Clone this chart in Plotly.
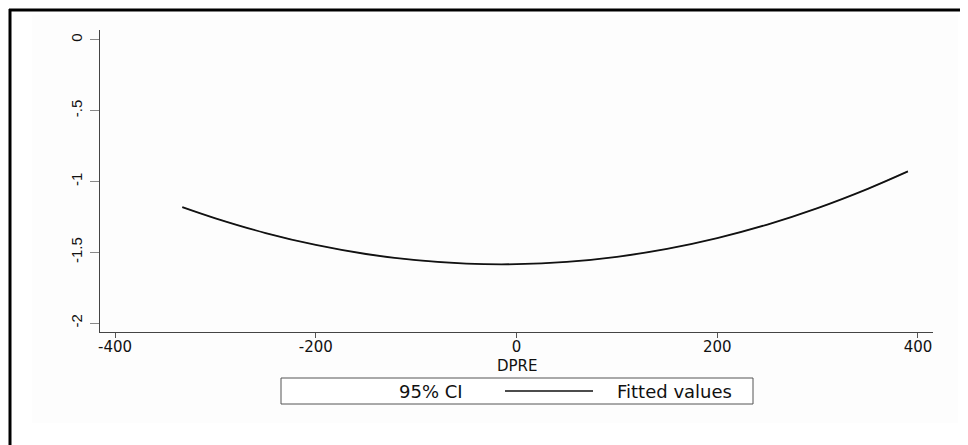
import plotly.graph_objects as go

# ---- data ----
dpre = [-333, -300, -250, -200, -150, -100, -50, 0, 50, 100, 150, 200, 250, 300, 350, 390]
fitted = [-1.181, -1.260, -1.364, -1.448, -1.512, -1.556, -1.580, -1.584,
          -1.568, -1.532, -1.476, -1.400, -1.304, -1.188, -1.052, -0.929]
ci_lower = [-1.186, -1.264, -1.367, -1.451, -1.515, -1.559, -1.583, -1.587,
            -1.571, -1.535, -1.479, -1.403, -1.307, -1.192, -1.057, -0.935]
ci_upper = [-1.176, -1.256, -1.361, -1.445, -1.509, -1.553, -1.577, -1.581,
            -1.565, -1.529, -1.473, -1.397, -1.301, -1.184, -1.047, -0.923]

x_ticks = [-400, -200, 0, 200, 400]
x_tick_labels = ["-400", "-200", "0", "200", "400"]
y_ticks = [0, -0.5, -1, -1.5, -2]
y_tick_labels = ["0", "-.5", "-1", "-1.5", "-2"]

x_title = "DPRE"
legend_labels = ["95% CI", "Fitted values"]

# ---- geometry (page pixels; the page body adds an 8px offset) ----
OFF = 8
W, H = 960, 437
ML, MR, MT, MB = 92, 35, 22, 113
PW = W - ML - MR
PH = H - MT - MB


def px(x):
    return (x - OFF - ML) / PW


def py(y):
    return (H - MB - (y - OFF)) / PH


fig = go.Figure()

fig.add_trace(go.Scatter(
    x=dpre, y=ci_upper, mode="lines", line=dict(width=0, shape="spline"),
    showlegend=False, hoverinfo="skip"))
fig.add_trace(go.Scatter(
    x=dpre, y=ci_lower, mode="lines", line=dict(width=0, shape="spline"),
    fill="tonexty", fillcolor="rgb(190,190,190)", name=legend_labels[0],
    showlegend=False))
fig.add_trace(go.Scatter(
    x=dpre, y=fitted, mode="lines", line=dict(color="#111111", width=1.8, shape="spline"),
    name=legend_labels[1], showlegend=False))

shapes = [
    # faint graph region
    dict(type="rect", xref="paper", yref="paper",
         x0=px(32), x1=px(958), y0=py(423), y1=py(15),
         fillcolor="#fdfdfd", line=dict(width=0), layer="below"),
    # outer black frame: top and left edges (right/bottom lie outside the window)
    dict(type="line", xref="paper", yref="paper",
         x0=px(9), x1=px(1100), y0=py(10), y1=py(10),
         line=dict(color="black", width=3)),
    dict(type="line", xref="paper", yref="paper",
         x0=px(10), x1=px(10), y0=py(9), y1=py(600),
         line=dict(color="black", width=3)),
    # legend box
    dict(type="rect", xref="paper", yref="paper",
         x0=px(281), x1=px(753), y0=py(404), y1=py(378),
         line=dict(color="#555555", width=1), fillcolor="white"),
    # legend line key
    dict(type="line", xref="paper", yref="paper",
         x0=px(505), x1=px(593), y0=py(391), y1=py(391),
         line=dict(color="#111111", width=1.5)),
]

annotations = [
    dict(text=legend_labels[0], xref="paper", yref="paper", x=px(431), y=py(391),
         showarrow=False, xanchor="center", yanchor="middle",
         font=dict(family="DejaVu Sans", size=18, color="#111111")),
    dict(text=legend_labels[1], xref="paper", yref="paper", x=px(674), y=py(391),
         showarrow=False, xanchor="center", yanchor="middle",
         font=dict(family="DejaVu Sans", size=18, color="#111111")),
    dict(text=x_title, xref="paper", yref="paper", x=px(517), y=py(366),
         showarrow=False, xanchor="center", yanchor="middle",
         font=dict(family="DejaVu Sans", size=15, color="#111111")),
]

fig.update_layout(
    width=W, height=H,
    margin=dict(l=ML, r=MR, t=MT, b=MB, autoexpand=False),
    paper_bgcolor="white", plot_bgcolor="white",
    showlegend=False,
    shapes=shapes, annotations=annotations,
    xaxis=dict(
        range=[-415, 415], tickmode="array", tickvals=x_ticks, ticktext=x_tick_labels,
        showgrid=False, zeroline=False, showline=True, linecolor="#444444", linewidth=1,
        ticks="outside", ticklen=5, tickcolor="#555555", tickwidth=1,
        ticklabelstandoff=-4,
        tickfont=dict(family="DejaVu Sans", size=15, color="#111111"),
    ),
    yaxis=dict(
        range=[-2.063, 0.07], tickmode="array", tickvals=y_ticks, ticktext=y_tick_labels,
        showgrid=False, zeroline=False, showline=True, linecolor="#444444", linewidth=1,
        ticks="outside", ticklen=9, tickcolor="#888888", tickwidth=1, tickangle=-90,
        ticklabelstandoff=2,
        tickfont=dict(family="Liberation Sans", size=15, color="#111111"),
    ),
)

fig.write_html("out.html")
